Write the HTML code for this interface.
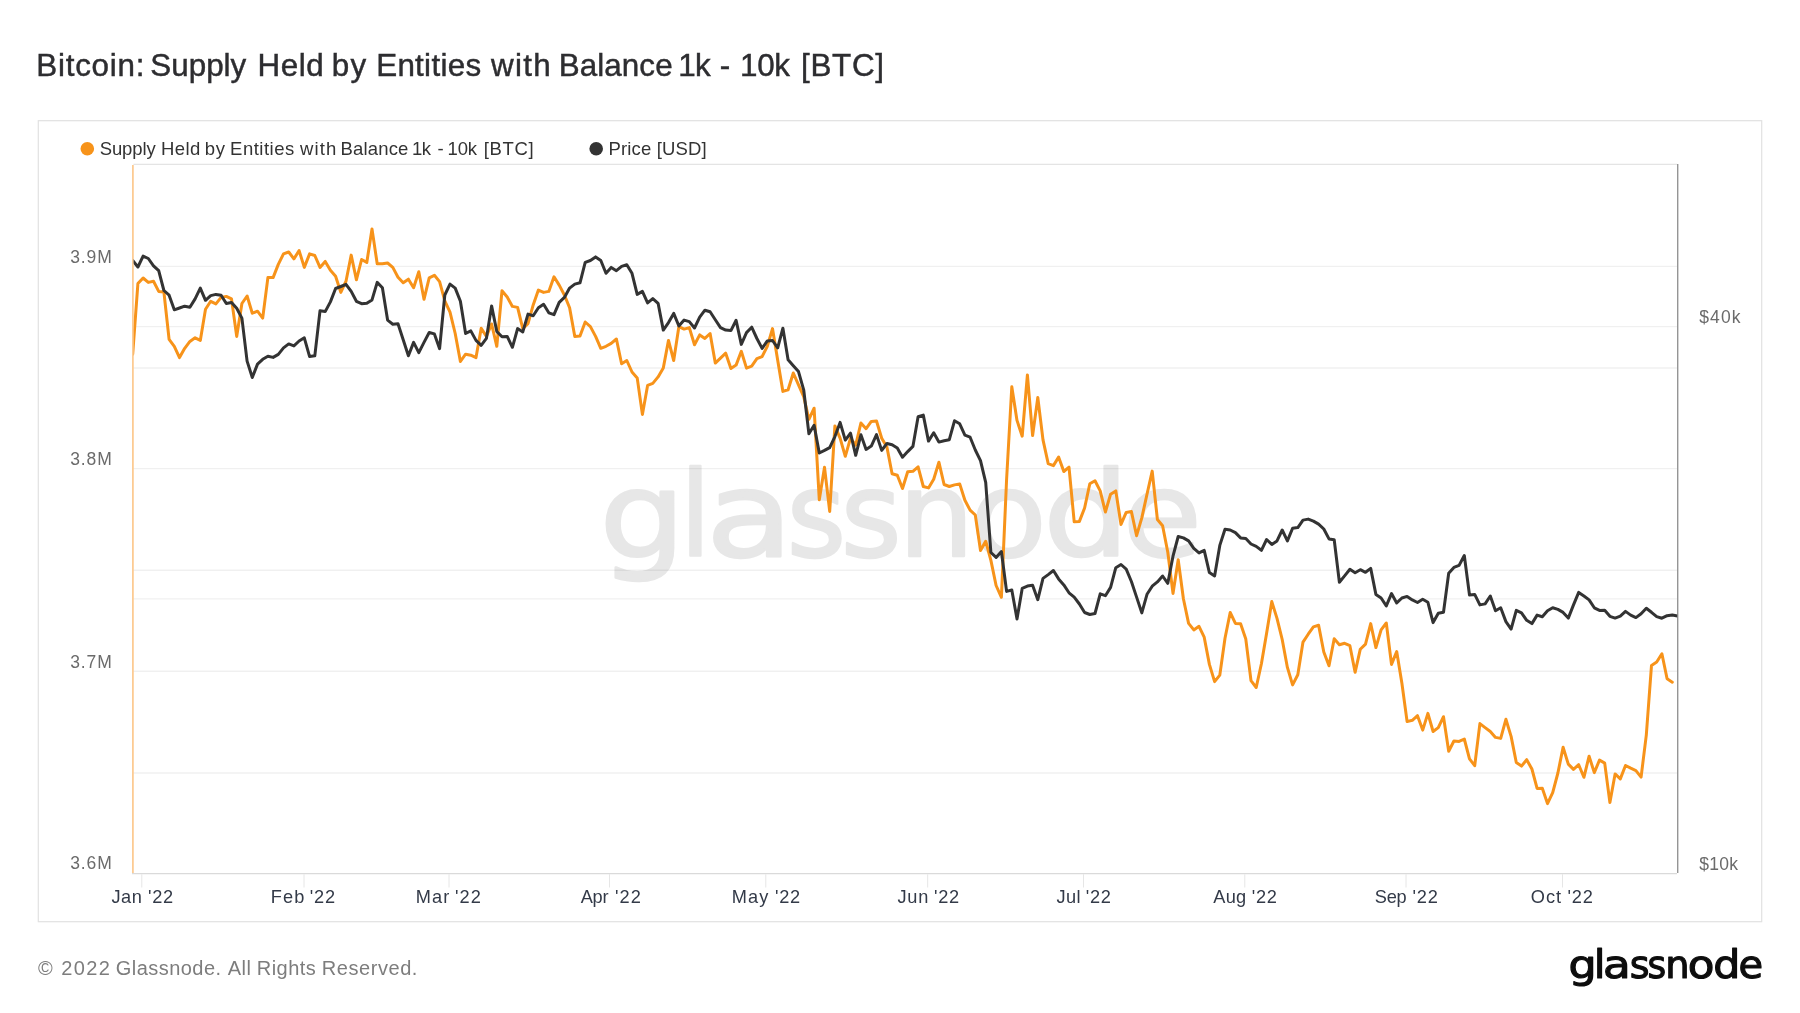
<!DOCTYPE html>
<html lang="en">
<head>
<meta charset="utf-8">
<title>Bitcoin: Supply Held by Entities with Balance 1k - 10k [BTC]</title>
<style>
html,body{margin:0;padding:0;background:#fff;}
body{width:1800px;height:1013px;position:relative;overflow:hidden;font-family:"Liberation Sans",sans-serif;}
svg{position:absolute;left:0;top:0;will-change:transform;}
svg text{font-family:"Liberation Sans",sans-serif;white-space:pre;}
svg text.dj{font-family:"DejaVu Sans","Liberation Sans",sans-serif;stroke-linejoin:round;}
</style>
</head>
<body>
<svg width="1800" height="1013" viewBox="0 0 1800 1013">
<rect x="38.3" y="120.7" width="1723.4" height="801" fill="none" stroke="#e1e1e1" stroke-width="1.2"/>
<text y="75.5" font-size="31.40" fill="#2d2d30" stroke="#2d2d30" stroke-width="0.45"><tspan x="36.17" letter-spacing="0.782">Bitcoin:</tspan> <tspan x="150.32" letter-spacing="-0.004">Supply</tspan> <tspan x="257.42" letter-spacing="0.590">Held</tspan> <tspan x="331.73" letter-spacing="1.422">by</tspan> <tspan x="376.17" letter-spacing="0.284">Entities</tspan> <tspan x="491.05" letter-spacing="1.301">with</tspan> <tspan x="558.67" letter-spacing="0.083">Balance</tspan> <tspan x="678.17" letter-spacing="-0.700">1k</tspan> <tspan x="719.85" letter-spacing="0.000">-</tspan> <tspan x="740.11" letter-spacing="-0.390">10k</tspan> <tspan x="801.01" letter-spacing="0.682">[BTC]</tspan></text>
<text y="555.8" font-size="118" fill="#e7e7e7" stroke="#e7e7e7" stroke-width="2.4" class="dj"><tspan x="599.55" textLength="85.71" lengthAdjust="spacingAndGlyphs">g</tspan><tspan x="679.81" textLength="31.23" lengthAdjust="spacingAndGlyphs">l</tspan><tspan x="705.97" textLength="87.03" lengthAdjust="spacingAndGlyphs">a</tspan><tspan x="786.73" textLength="59.33" lengthAdjust="spacingAndGlyphs">s</tspan><tspan x="840.67" textLength="60.83" lengthAdjust="spacingAndGlyphs">s</tspan><tspan x="898.47" textLength="75.56" lengthAdjust="spacingAndGlyphs">n</tspan><tspan x="969.97" textLength="76.79" lengthAdjust="spacingAndGlyphs">o</tspan><tspan x="1043.22" textLength="86.10" lengthAdjust="spacingAndGlyphs">d</tspan><tspan x="1122.80" textLength="79.14" lengthAdjust="spacingAndGlyphs">e</tspan></text>
<g stroke="#000" stroke-opacity="0.058" stroke-width="1.4"><line x1="133" x2="1677" y1="266.4" y2="266.4"/><line x1="133" x2="1677" y1="368.0" y2="368.0"/><line x1="133" x2="1677" y1="468.6" y2="468.6"/><line x1="133" x2="1677" y1="570.3" y2="570.3"/><line x1="133" x2="1677" y1="671.3" y2="671.3"/><line x1="133" x2="1677" y1="773.0" y2="773.0"/><line x1="133" x2="1677" y1="326.6" y2="326.6"/><line x1="133" x2="1677" y1="598.9" y2="598.9"/></g>
<line x1="133.4" x2="1677" y1="164.3" y2="164.3" stroke="#e4e4e4" stroke-width="1.2"/>
<g stroke="#e6e6e6" stroke-width="1"><line x1="141.8" x2="141.8" y1="874.3" y2="887.5"/><line x1="304.0" x2="304.0" y1="874.3" y2="887.5"/><line x1="449.0" x2="449.0" y1="874.3" y2="887.5"/><line x1="609.5" x2="609.5" y1="874.3" y2="887.5"/><line x1="765.8" x2="765.8" y1="874.3" y2="887.5"/><line x1="927.7" x2="927.7" y1="874.3" y2="887.5"/><line x1="1083.5" x2="1083.5" y1="874.3" y2="887.5"/><line x1="1244.8" x2="1244.8" y1="874.3" y2="887.5"/><line x1="1406.0" x2="1406.0" y1="874.3" y2="887.5"/><line x1="1562.5" x2="1562.5" y1="874.3" y2="887.5"/></g>
<line x1="132" x2="1677" y1="873.6" y2="873.6" stroke="#dadada" stroke-width="1.3"/>
<line x1="132.9" x2="132.9" y1="165" y2="873" stroke="#fcc98e" stroke-width="1.7"/>
<line x1="1677.7" x2="1677.7" y1="164" y2="873" stroke="#959595" stroke-width="1.4"/>
<clipPath id="plot"><rect x="133.6" y="165" width="1543.6" height="709"/></clipPath>
<g clip-path="url(#plot)">
<path d="M132.7 354.2 L137.9 283.6 L143.1 278.0 L148.3 282.4 L153.5 281.2 L158.7 291.4 L163.9 292.0 L169.1 339.4 L174.3 346.3 L179.5 357.6 L184.7 348.3 L189.9 341.4 L195.1 337.8 L200.3 340.4 L205.5 309.2 L210.7 301.3 L215.9 303.9 L221.1 297.4 L226.3 296.4 L231.5 298.9 L236.7 336.4 L241.9 303.5 L247.1 296.0 L252.3 313.2 L257.5 311.2 L262.7 318.1 L267.9 277.6 L273.1 277.6 L278.3 264.4 L283.5 253.9 L288.7 252.0 L293.9 258.9 L299.1 250.6 L304.3 267.4 L309.6 253.9 L314.8 255.5 L320.0 267.4 L325.2 261.4 L330.4 270.3 L335.6 276.2 L340.8 292.4 L346.0 281.2 L351.2 255.1 L356.4 279.8 L361.6 259.5 L366.8 262.4 L372.0 228.9 L377.2 263.8 L382.4 263.8 L387.6 263.0 L392.8 267.4 L398.0 277.2 L403.2 282.8 L408.4 279.2 L413.6 287.7 L418.8 271.7 L424.0 299.3 L429.2 277.8 L434.4 275.3 L439.6 281.6 L444.8 300.9 L450.0 312.2 L455.2 333.5 L460.4 361.5 L465.6 354.2 L470.8 355.2 L476.0 357.6 L481.2 328.2 L486.4 336.4 L491.6 324.0 L496.8 346.3 L502.0 290.7 L507.2 297.0 L512.4 306.4 L517.6 307.4 L522.8 328.6 L528.0 323.6 L533.2 304.9 L538.4 290.1 L543.6 292.4 L548.8 291.4 L554.0 276.8 L559.2 285.1 L564.4 295.0 L569.6 307.8 L574.8 336.4 L580.0 336.1 L585.2 322.0 L590.4 326.6 L595.6 336.4 L600.8 348.3 L606.0 346.3 L611.2 343.4 L616.4 339.0 L621.6 363.7 L626.8 360.5 L632.0 372.0 L637.2 377.9 L642.4 414.4 L647.6 385.4 L652.8 383.4 L658.1 376.9 L663.3 368.0 L668.5 340.4 L673.7 360.5 L678.9 326.6 L684.1 329.1 L689.3 327.6 L694.5 344.7 L699.7 334.9 L704.9 338.4 L710.1 333.5 L715.3 363.1 L720.5 358.2 L725.7 353.2 L730.9 368.5 L736.1 365.1 L741.3 351.3 L746.5 368.1 L751.7 366.1 L756.9 358.6 L762.1 356.6 L767.3 346.4 L772.5 328.6 L777.7 360.2 L782.9 391.4 L788.1 389.8 L793.3 373.0 L798.5 384.9 L803.7 396.7 L808.9 419.4 L814.1 408.2 L819.3 499.8 L824.5 467.2 L829.7 511.4 L834.9 425.9 L840.1 438.2 L845.3 456.3 L850.5 438.2 L855.7 445.1 L860.9 423.0 L866.1 428.7 L871.3 421.4 L876.5 421.0 L881.7 438.2 L886.9 447.0 L892.1 473.7 L897.3 475.3 L902.5 488.5 L907.7 471.7 L912.9 471.3 L918.1 466.8 L923.3 486.5 L928.5 487.9 L933.7 479.2 L938.9 462.2 L944.1 484.5 L949.3 486.5 L954.5 484.9 L959.7 483.9 L964.9 500.2 L970.1 510.1 L975.3 515.0 L980.5 550.5 L985.7 541.2 L990.9 560.4 L996.1 585.5 L1001.4 597.3 L1006.6 479.3 L1011.8 386.8 L1017.0 420.4 L1022.2 436.2 L1027.4 375.0 L1032.6 435.6 L1037.8 397.5 L1043.0 439.9 L1048.2 463.6 L1053.4 465.6 L1058.6 457.1 L1063.8 471.5 L1069.0 467.2 L1074.2 521.8 L1079.4 521.4 L1084.6 508.0 L1089.8 483.8 L1095.0 480.8 L1100.2 490.9 L1105.4 512.0 L1110.6 494.2 L1115.8 490.9 L1121.0 524.4 L1126.2 512.4 L1131.4 511.6 L1136.6 535.7 L1141.8 517.9 L1147.0 494.2 L1152.2 471.1 L1157.4 519.5 L1162.6 525.7 L1167.8 552.3 L1173.0 593.4 L1178.2 559.8 L1183.4 598.7 L1188.6 623.4 L1193.8 629.9 L1199.0 626.3 L1204.2 637.2 L1209.4 664.4 L1214.6 681.6 L1219.8 675.1 L1225.0 638.2 L1230.2 612.5 L1235.4 623.4 L1240.6 623.8 L1245.8 639.1 L1251.0 680.6 L1256.2 687.5 L1261.4 663.8 L1266.6 633.2 L1271.8 601.6 L1277.0 618.4 L1282.2 639.5 L1287.4 667.4 L1292.6 684.9 L1297.8 674.7 L1303.0 642.1 L1308.2 634.2 L1313.4 626.9 L1318.6 625.3 L1323.8 652.0 L1329.0 665.8 L1334.2 638.8 L1339.4 644.7 L1344.6 643.3 L1349.9 645.7 L1355.1 672.3 L1360.3 649.2 L1365.5 644.1 L1370.7 623.6 L1375.9 647.6 L1381.1 629.9 L1386.3 623.0 L1391.5 664.4 L1396.7 651.6 L1401.9 683.2 L1407.1 721.6 L1412.3 720.3 L1417.5 715.7 L1422.7 730.1 L1427.9 713.4 L1433.1 731.5 L1438.3 727.6 L1443.5 716.7 L1448.7 751.2 L1453.9 741.0 L1459.1 741.4 L1464.3 739.0 L1469.5 758.8 L1474.7 765.7 L1479.9 723.6 L1485.1 727.6 L1490.3 731.5 L1495.5 737.4 L1500.7 738.4 L1505.9 719.3 L1511.1 736.4 L1516.3 762.5 L1521.5 766.1 L1526.7 759.7 L1531.9 769.0 L1537.1 788.4 L1542.3 788.2 L1547.5 803.6 L1552.7 792.7 L1557.9 773.0 L1563.1 747.3 L1568.3 764.1 L1573.5 769.4 L1578.7 764.7 L1583.9 777.3 L1589.1 756.2 L1594.3 772.6 L1599.5 760.1 L1604.7 763.1 L1609.9 802.6 L1615.1 773.9 L1620.3 778.9 L1625.5 765.5 L1630.7 768.2 L1635.9 770.6 L1641.1 777.1 L1646.3 735.1 L1651.5 665.4 L1656.7 662.0 L1661.9 653.8 L1667.1 678.8 L1672.3 682.2" fill="none" stroke="#f7931a" stroke-width="3" stroke-linejoin="round" stroke-linecap="round"/>
<path d="M132.7 260.5 L137.9 267.0 L143.1 256.1 L148.3 258.5 L153.5 265.8 L158.7 270.7 L163.9 290.5 L169.1 295.2 L174.3 309.8 L179.5 308.0 L184.7 306.2 L189.9 307.2 L195.1 298.9 L200.3 288.1 L205.5 300.3 L210.7 295.6 L215.9 294.4 L221.1 295.2 L226.3 303.5 L231.5 302.5 L236.7 308.2 L241.9 318.1 L247.1 361.1 L252.3 377.5 L257.5 364.1 L262.7 359.3 L267.9 356.2 L273.1 357.4 L278.3 354.4 L283.5 347.9 L288.7 343.9 L293.9 345.9 L299.1 341.0 L304.3 337.8 L309.6 356.6 L314.8 355.8 L320.0 310.8 L325.2 311.6 L330.4 301.9 L335.6 288.5 L340.8 286.5 L346.0 284.3 L351.2 291.4 L356.4 301.3 L361.6 303.7 L366.8 303.3 L372.0 299.9 L377.2 282.4 L382.4 287.7 L387.6 320.1 L392.8 324.2 L398.0 323.8 L403.2 339.8 L408.4 355.8 L413.6 342.4 L418.8 352.6 L424.0 342.4 L429.2 332.5 L434.4 333.9 L439.6 348.7 L444.8 295.0 L450.0 284.1 L455.2 288.1 L460.4 301.3 L465.6 333.5 L470.8 330.9 L476.0 340.4 L481.2 345.3 L486.4 338.4 L491.6 305.9 L496.8 331.5 L502.0 336.8 L507.2 336.4 L512.4 347.3 L517.6 328.6 L522.8 331.9 L528.0 314.1 L533.2 315.7 L538.4 307.8 L543.6 304.3 L548.8 312.8 L554.0 314.7 L559.2 302.3 L564.4 297.4 L569.6 288.1 L574.8 284.1 L580.0 282.8 L585.2 262.4 L590.4 260.5 L595.6 256.9 L600.8 260.5 L606.0 273.3 L611.2 267.4 L616.4 270.7 L621.6 266.4 L626.8 264.8 L632.0 273.3 L637.2 294.4 L642.4 291.4 L647.6 302.9 L652.8 298.6 L658.1 303.3 L663.3 330.1 L668.5 322.6 L673.7 313.4 L678.9 326.0 L684.1 320.1 L689.3 321.6 L694.5 328.0 L699.7 317.1 L704.9 310.2 L710.1 311.8 L715.3 319.7 L720.5 327.6 L725.7 330.1 L730.9 330.6 L736.1 320.3 L741.3 344.4 L746.5 332.6 L751.7 327.2 L756.9 338.5 L762.1 348.4 L767.3 340.9 L772.5 340.5 L777.7 347.8 L782.9 328.2 L788.1 359.8 L793.3 365.7 L798.5 371.6 L803.7 389.8 L808.9 433.8 L814.1 425.3 L819.3 453.0 L824.5 450.4 L829.7 447.6 L834.9 436.6 L840.1 422.4 L845.3 440.1 L850.5 433.2 L855.7 455.3 L860.9 434.8 L866.1 449.4 L871.3 446.1 L876.5 434.6 L881.7 450.4 L886.9 443.5 L892.1 444.7 L897.3 448.0 L902.5 457.3 L907.7 451.6 L912.9 446.4 L918.1 416.8 L923.3 415.1 L928.5 441.1 L933.7 432.8 L938.9 442.1 L944.1 440.7 L949.3 439.7 L954.5 420.8 L959.7 423.8 L964.9 435.2 L970.1 437.2 L975.3 450.0 L980.5 460.7 L985.7 482.4 L990.9 552.5 L996.1 557.4 L1001.4 551.5 L1006.6 591.4 L1011.8 590.0 L1017.0 619.0 L1022.2 588.4 L1027.4 586.1 L1032.6 585.3 L1037.8 599.7 L1043.0 578.4 L1048.2 574.6 L1053.4 570.5 L1058.6 578.9 L1063.8 584.9 L1069.0 592.8 L1074.2 597.1 L1079.4 604.0 L1084.6 612.5 L1089.8 614.5 L1095.0 613.5 L1100.2 593.8 L1105.4 595.7 L1110.6 587.4 L1115.8 567.7 L1121.0 564.5 L1126.2 569.1 L1131.4 581.5 L1136.6 597.1 L1141.8 612.9 L1147.0 594.3 L1152.2 586.2 L1157.4 581.9 L1162.6 576.0 L1167.8 583.3 L1173.0 556.2 L1178.2 536.5 L1183.4 537.9 L1188.6 540.9 L1193.8 548.4 L1199.0 552.9 L1204.2 550.3 L1209.4 572.6 L1214.6 576.0 L1219.8 545.4 L1225.0 529.2 L1230.2 530.0 L1235.4 532.6 L1240.6 537.9 L1245.8 538.5 L1251.0 544.0 L1256.2 546.4 L1261.4 550.3 L1266.6 539.5 L1271.8 544.4 L1277.0 540.9 L1282.2 530.0 L1287.4 540.9 L1292.6 528.2 L1297.8 527.6 L1303.0 520.1 L1308.2 519.1 L1313.4 521.1 L1318.6 524.1 L1323.8 529.0 L1329.0 538.9 L1334.2 539.7 L1339.4 582.2 L1344.6 575.9 L1349.9 569.3 L1355.1 572.7 L1360.3 569.7 L1365.5 572.3 L1370.7 568.4 L1375.9 594.4 L1381.1 598.0 L1386.3 605.9 L1391.5 593.6 L1396.7 602.9 L1401.9 598.0 L1407.1 596.4 L1412.3 599.9 L1417.5 602.5 L1422.7 599.3 L1427.9 602.3 L1433.1 622.6 L1438.3 613.2 L1443.5 612.2 L1448.7 573.3 L1453.9 567.4 L1459.1 565.4 L1464.3 555.5 L1469.5 595.0 L1474.7 594.4 L1479.9 604.9 L1485.1 603.9 L1490.3 596.0 L1495.5 610.8 L1500.7 607.8 L1505.9 621.6 L1511.1 629.1 L1516.3 610.4 L1521.5 612.8 L1526.7 620.3 L1531.9 623.6 L1537.1 615.1 L1542.3 616.7 L1547.5 610.8 L1552.7 607.8 L1557.9 609.4 L1563.1 612.4 L1568.3 618.1 L1573.5 604.9 L1578.7 592.4 L1583.9 596.0 L1589.1 599.9 L1594.3 607.8 L1599.5 610.4 L1604.7 610.2 L1609.9 616.3 L1615.1 618.1 L1620.3 616.1 L1625.5 611.4 L1630.7 615.1 L1635.9 617.6 L1641.1 613.7 L1646.3 608.2 L1651.5 612.3 L1656.7 616.6 L1661.9 618.2 L1667.1 615.7 L1672.3 615.1 L1677.5 615.9" fill="none" stroke="#333333" stroke-width="3" stroke-linejoin="round" stroke-linecap="round"/>
</g>
<circle cx="87.3" cy="148.7" r="6.8" fill="#f7931a"/>
<text y="155.0" font-size="18.50" fill="#333"><tspan x="99.76" letter-spacing="-0.138">Supply</tspan> <tspan x="161.08" letter-spacing="0.354">Held</tspan> <tspan x="204.81" letter-spacing="0.690">by</tspan> <tspan x="230.08" letter-spacing="0.503">Entities</tspan> <tspan x="300.03" letter-spacing="1.092">with</tspan> <tspan x="340.48" letter-spacing="0.181">Balance</tspan> <tspan x="412.06" letter-spacing="-0.700">1k</tspan> <tspan x="437.58" letter-spacing="0.000">-</tspan> <tspan x="447.59" letter-spacing="-0.223">10k</tspan> <tspan x="483.68" letter-spacing="0.689">[BTC]</tspan></text>
<circle cx="596.2" cy="148.7" r="6.8" fill="#333"/>
<text y="155.0" font-size="18.50" fill="#333"><tspan x="608.48" letter-spacing="0.148">Price</tspan> <tspan x="656.68" letter-spacing="0.175">[USD]</tspan></text>
<text y="263.0" font-size="17.50" fill="#6b6b6b"><tspan x="70.13" letter-spacing="0.932">3.9M</tspan></text><text y="465.0" font-size="17.50" fill="#6b6b6b"><tspan x="70.13" letter-spacing="0.932">3.8M</tspan></text><text y="667.8" font-size="17.50" fill="#6b6b6b"><tspan x="70.13" letter-spacing="0.932">3.7M</tspan></text><text y="869.4" font-size="17.50" fill="#6b6b6b"><tspan x="70.13" letter-spacing="0.932">3.6M</tspan></text>
<text y="323.0" font-size="17.50" fill="#6b6b6b"><tspan x="1699.31" letter-spacing="1.071">$40k</tspan></text><text y="869.5" font-size="17.50" fill="#6b6b6b"><tspan x="1699.31" letter-spacing="0.238">$10k</tspan></text>
<text y="902.8" font-size="18.20" fill="#333a48"><tspan x="111.42" letter-spacing="0.561">Jan</tspan> <tspan x="148.08" letter-spacing="0.710">'22</tspan></text><text y="902.8" font-size="18.20" fill="#333a48"><tspan x="270.81" letter-spacing="1.148">Feb</tspan> <tspan x="309.78" letter-spacing="0.860">'22</tspan></text><text y="902.8" font-size="18.20" fill="#333a48"><tspan x="415.81" letter-spacing="1.076">Mar</tspan> <tspan x="455.08" letter-spacing="1.060">'22</tspan></text><text y="902.8" font-size="18.20" fill="#333a48"><tspan x="580.66" letter-spacing="-0.192">Apr</tspan> <tspan x="615.08" letter-spacing="1.060">'22</tspan></text><text y="902.8" font-size="18.20" fill="#333a48"><tspan x="731.81" letter-spacing="1.073">May</tspan> <tspan x="775.08" letter-spacing="0.710">'22</tspan></text><text y="902.8" font-size="18.20" fill="#333a48"><tspan x="897.42" letter-spacing="0.861">Jun</tspan> <tspan x="934.08" letter-spacing="0.710">'22</tspan></text><text y="902.8" font-size="18.20" fill="#333a48"><tspan x="1056.42" letter-spacing="0.418">Jul</tspan> <tspan x="1085.78" letter-spacing="0.710">'22</tspan></text><text y="902.8" font-size="18.20" fill="#333a48"><tspan x="1213.26" letter-spacing="0.263">Aug</tspan> <tspan x="1251.78" letter-spacing="0.710">'22</tspan></text><text y="902.8" font-size="18.20" fill="#333a48"><tspan x="1374.87" letter-spacing="-0.246">Sep</tspan> <tspan x="1412.38" letter-spacing="0.910">'22</tspan></text><text y="902.8" font-size="18.20" fill="#333a48"><tspan x="1530.84" letter-spacing="0.991">Oct</tspan> <tspan x="1567.38" letter-spacing="0.910">'22</tspan></text>
<text y="975.0" font-size="20.00" fill="#7d7d7d"><tspan x="38.10" letter-spacing="0.000">©</tspan> <tspan x="61.19" letter-spacing="1.407">2022</tspan> <tspan x="115.69" letter-spacing="0.473">Glassnode.</tspan> <tspan x="227.76" letter-spacing="0.475">All</tspan> <tspan x="256.76" letter-spacing="0.475">Rights</tspan> <tspan x="321.66" letter-spacing="0.577">Reserved.</tspan></text>
<text y="978" font-size="38.5" fill="#0d0d0d" stroke="#0d0d0d" stroke-width="1.1" class="dj"><tspan x="1568.50" textLength="28.18" lengthAdjust="spacingAndGlyphs">g</tspan><tspan x="1593.86" textLength="11.75" lengthAdjust="spacingAndGlyphs">l</tspan><tspan x="1603.03" textLength="27.73" lengthAdjust="spacingAndGlyphs">a</tspan><tspan x="1629.79" textLength="19.82" lengthAdjust="spacingAndGlyphs">s</tspan><tspan x="1647.60" textLength="18.70" lengthAdjust="spacingAndGlyphs">s</tspan><tspan x="1665.26" textLength="24.35" lengthAdjust="spacingAndGlyphs">n</tspan><tspan x="1687.74" textLength="26.69" lengthAdjust="spacingAndGlyphs">o</tspan><tspan x="1713.19" textLength="27.14" lengthAdjust="spacingAndGlyphs">d</tspan><tspan x="1738.64" textLength="24.64" lengthAdjust="spacingAndGlyphs">e</tspan></text>
</svg>
</body>
</html>
